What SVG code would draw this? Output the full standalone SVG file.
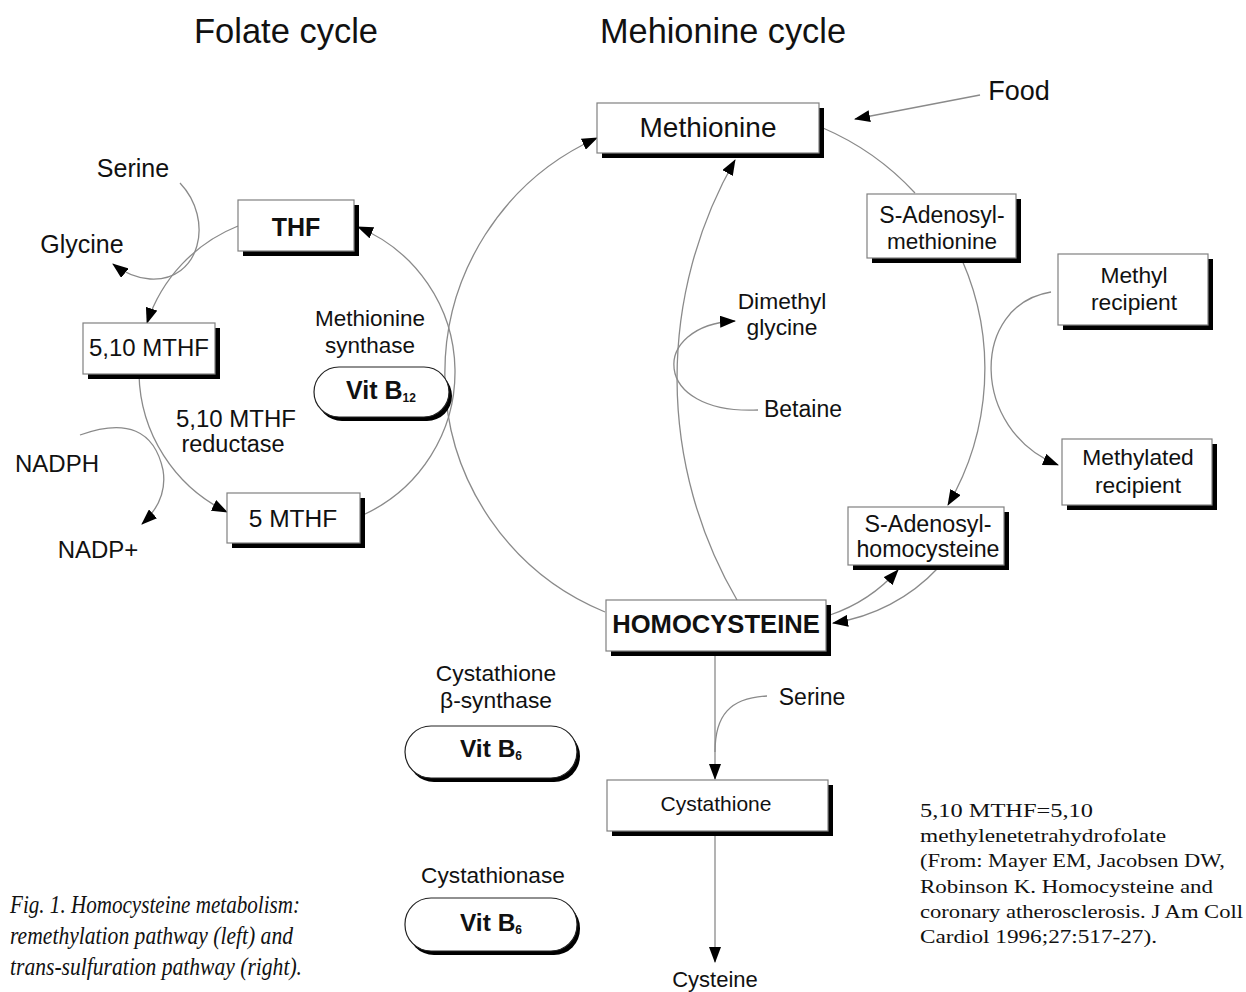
<svg xmlns="http://www.w3.org/2000/svg" width="1246" height="992" viewBox="0 0 1246 992">
<defs>
<style>
.t{font-family:"Liberation Sans",Arial,sans-serif;fill:#111;text-anchor:middle}
.b{font-weight:bold}
.box{fill:#fff;stroke:#808080;stroke-width:1.2}
.sh{fill:#000}
.pill{fill:#fff;stroke:#222;stroke-width:1.2}
.c{fill:none;stroke:#8a8a8a;stroke-width:1.3}
.a{marker-end:url(#ah)}
.cap{font-family:"Liberation Serif","Times New Roman",serif;font-style:italic;fill:#111}
.ref{font-family:"Liberation Serif","Times New Roman",serif;fill:#111;font-size:19.5px}
</style>
<marker id="ah" markerUnits="userSpaceOnUse" markerWidth="17" markerHeight="12" refX="15" refY="6" orient="auto">
<path d="M0,0 L16,6 L0,12 Z" fill="#000"/>
</marker>
</defs>
<rect width="1246" height="992" fill="#fff"/>

<text class="t" x="286" y="43" font-size="34.5">Folate cycle</text>
<text class="t" x="723" y="43" font-size="34.3">Mehionine cycle</text>

<g id="connectors">
<path class="c a" d="M980,95 L855,119"/>
<path class="c" d="M823,128 A270,270 0 0,1 915,193"/>
<path class="c a" d="M962,260 A270,270 0 0,1 948,505"/>
<path class="c a" d="M1051,292 C970,305 970,430 1058,465"/>
<path class="c a" d="M938,568 A180,180 0 0,1 833,623"/>
<path class="c a" d="M830,615 A160,160 0 0,0 898,570"/>
<path class="c a" d="M737,600 A440,440 0 0,1 735,160"/>
<path class="c a" d="M758,410 C650,415 650,325 735,321"/>
<path class="c a" d="M605,612 A258,258 0 0,1 597,138"/>
<path class="c a" d="M363,515 A157,157 0 0,0 358,227"/>
<path class="c a" d="M238,226 A157,157 0 0,0 147,323"/>
<path class="c a" d="M139,374 A157,157 0 0,0 227,512"/>
<path class="c a" d="M180,183 C215,220 200,282 150,279 C135,278 122,271 113,264"/>
<path class="c a" d="M80,435 Q150,410 163,470 Q168,500 142,524"/>
<path class="c a" d="M715,651 L715,779"/>
<path class="c" d="M767,696 C730,698 715,715 715,752"/>
<path class="c a" d="M715,831 L715,962"/>
</g>

<g id="food"><text class="t" x="1019" y="100" font-size="27">Food</text></g>

<g id="methionine">
<rect class="sh" x="602" y="108" width="222" height="50"/>
<rect class="box" x="597" y="103" width="222" height="50"/>
<text class="t" x="708" y="137" font-size="28">Methionine</text>
</g>

<g id="serine-left"><text class="t" x="133" y="177" font-size="25">Serine</text></g>
<g id="glycine"><text class="t" x="82" y="253" font-size="25">Glycine</text></g>

<g id="thf">
<rect class="sh" x="243" y="205" width="116" height="51"/>
<rect class="box" x="238" y="200" width="116" height="51"/>
<text class="t b" x="296" y="236" font-size="25">THF</text>
</g>

<g id="mthf510">
<rect class="sh" x="88" y="328" width="132" height="51"/>
<rect class="box" x="83" y="323" width="132" height="51"/>
<text class="t" x="149" y="356" font-size="24">5,10 MTHF</text>
</g>

<g id="methionine-synthase">
<text class="t" x="370" y="326" font-size="22.5">Methionine</text>
<text class="t" x="370" y="353" font-size="22.5">synthase</text>
</g>

<g id="vitb12">
<rect class="sh" x="317" y="371" width="135" height="50" rx="25"/>
<rect class="pill" x="314" y="367" width="135" height="50" rx="25"/>
<text class="t b" x="381" y="399" font-size="25">Vit B<tspan font-size="12" dy="3">12</tspan></text>
</g>

<g id="mthf-reductase">
<text class="t" x="236" y="427" font-size="24">5,10 MTHF</text>
<text class="t" x="233" y="452" font-size="23.5">reductase</text>
</g>

<g id="nadph"><text class="t" x="57" y="472" font-size="24">NADPH</text></g>
<g id="nadp"><text class="t" x="98" y="558" font-size="24">NADP+</text></g>

<g id="mthf5">
<rect class="sh" x="232" y="498" width="133" height="50"/>
<rect class="box" x="227" y="493" width="133" height="50"/>
<text class="t" x="293" y="527" font-size="24.5">5 MTHF</text>
</g>

<g id="sam">
<rect class="sh" x="872" y="199" width="149" height="64"/>
<rect class="box" x="867" y="194" width="149" height="64"/>
<text class="t" x="942" y="223" font-size="23">S-Adenosyl-</text>
<text class="t" x="942" y="249" font-size="22.5">methionine</text>
</g>

<g id="methyl-recipient">
<rect class="sh" x="1063" y="259" width="150" height="71"/>
<rect class="box" x="1058" y="254" width="150" height="71"/>
<text class="t" x="1134" y="283" font-size="22.8">Methyl</text>
<text class="t" x="1134" y="310" font-size="22.8">recipient</text>
</g>

<g id="dimethylglycine">
<text class="t" x="782" y="309" font-size="22.8">Dimethyl</text>
<text class="t" x="782" y="335" font-size="22.8">glycine</text>
</g>

<g id="betaine"><text class="t" x="803" y="417" font-size="23">Betaine</text></g>

<g id="methylated-recipient">
<rect class="sh" x="1067" y="444" width="150" height="66"/>
<rect class="box" x="1062" y="439" width="150" height="66"/>
<text class="t" x="1138" y="465" font-size="22.8">Methylated</text>
<text class="t" x="1138" y="493" font-size="22.8">recipient</text>
</g>

<g id="sah">
<rect class="sh" x="853" y="512" width="156" height="58"/>
<rect class="box" x="848" y="507" width="156" height="58"/>
<text class="t" x="928" y="532" font-size="23.3">S-Adenosyl-</text>
<text class="t" x="928" y="557" font-size="23.2">homocysteine</text>
</g>

<g id="homocysteine">
<rect class="sh" x="611" y="605" width="220" height="51"/>
<rect class="box" x="606" y="600" width="220" height="51"/>
<text class="t b" x="716" y="633" font-size="25.6">HOMOCYSTEINE</text>
</g>

<g id="serine-lower"><text class="t" x="812" y="705" font-size="23">Serine</text></g>

<g id="cbs">
<text class="t" x="496" y="681" font-size="22.8">Cystathione</text>
<text class="t" x="496" y="708" font-size="22.8">β-synthase</text>
</g>

<g id="vitb6-1">
<rect class="sh" x="408" y="730" width="172" height="52" rx="26"/>
<rect class="pill" x="405" y="726" width="172" height="52" rx="26"/>
<text class="t b" x="491" y="757" font-size="24.5">Vit B<tspan font-size="12" dy="3">6</tspan></text>
</g>

<g id="cystathione">
<rect class="sh" x="612" y="785" width="221" height="51"/>
<rect class="box" x="607" y="780" width="221" height="51"/>
<text class="t" x="716" y="811" font-size="21">Cystathione</text>
</g>

<g id="cystathionase"><text class="t" x="493" y="883" font-size="22.7">Cystathionase</text></g>

<g id="vitb6-2">
<rect class="sh" x="408" y="902" width="172" height="53" rx="26"/>
<rect class="pill" x="405" y="898" width="172" height="53" rx="26"/>
<text class="t b" x="491" y="931" font-size="24.5">Vit B<tspan font-size="12" dy="3">6</tspan></text>
</g>

<g id="cysteine"><text class="t" x="715" y="987" font-size="22">Cysteine</text></g>

<g id="caption">
<text class="cap" x="10" y="913" font-size="25" textLength="290" lengthAdjust="spacingAndGlyphs">Fig. 1. Homocysteine metabolism:</text>
<text class="cap" x="10" y="944" font-size="25" textLength="283" lengthAdjust="spacingAndGlyphs">remethylation pathway (left) and</text>
<text class="cap" x="10" y="975" font-size="25" textLength="292" lengthAdjust="spacingAndGlyphs">trans-sulfuration pathway (right).</text>
</g>

<g id="reference">
<text class="ref" x="920" y="817" textLength="173" lengthAdjust="spacingAndGlyphs">5,10 MTHF=5,10</text>
<text class="ref" x="920" y="842" textLength="246" lengthAdjust="spacingAndGlyphs">methylenetetrahydrofolate</text>
<text class="ref" x="920" y="867" textLength="305" lengthAdjust="spacingAndGlyphs">(From: Mayer EM, Jacobsen DW,</text>
<text class="ref" x="920" y="893" textLength="293" lengthAdjust="spacingAndGlyphs">Robinson K. Homocysteine and</text>
<text class="ref" x="920" y="918" textLength="323" lengthAdjust="spacingAndGlyphs">coronary atherosclerosis. J Am Coll</text>
<text class="ref" x="920" y="943" textLength="237" lengthAdjust="spacingAndGlyphs">Cardiol 1996;27:517-27).</text>
</g>
</svg>
